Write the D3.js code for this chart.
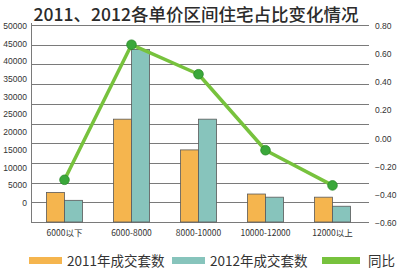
<!DOCTYPE html>
<html>
<head>
<meta charset="utf-8">
<script src="https://cdn.jsdelivr.net/npm/d3@7"></script>
<style>
  body { margin: 0; background: #fff; }
  svg { display: block; font-family: "Noto Sans CJK SC", "Noto Sans", sans-serif; }
  .num { font-family: "Liberation Sans", Arial, sans-serif; }
</style>
</head>
<body>
<div id="chart"></div>
<script>
// price ranges
const categories = ["6000以下", "6000-8000", "8000-10000", "10000-12000", "12000以上"];
const sales2011 = [7500, 26100, 18300, 7100, 6300];
const sales2012 = [5500, 43800, 26100, 6300, 4000];
const yoy = [-0.30, 0.66, 0.45, -0.09, -0.34];
const leftTicks = [0, 5000, 10000, 15000, 20000, 25000, 30000, 35000, 40000, 45000, 50000];
const rightTicks = [-0.6, -0.4, -0.2, 0, 0.2, 0.4, 0.6, 0.8];
const legendItems = ["2011年成交套数", "2012年成交套数", "同比"];

const W = 397, H = 270;
const plotLeft = 31, plotRight = 369, plotTop = 25, plotBottom = 222;
const colors = ["#F5B54E", "#87C4BC", "#77C23D"];

const svg = d3.select("#chart").append("svg")
  .attr("width", W).attr("height", H);

// title
svg.append("text")
  .attr("x", 196).attr("y", 20.5)
  .attr("text-anchor", "middle")
  .attr("font-size", 17.5)
  .attr("font-weight", 500)
  .attr("fill", "#2b2b2b")
  .text("2011、2012各单价区间住宅占比变化情况");

const x = d3.scaleBand().domain(categories).range([plotLeft, 366])
  .paddingInner(0.46).paddingOuter(0.23);
const y = d3.scaleLinear().domain([0, 50000]).range([plotBottom, plotTop]);
// left labels sit a bit off the grid in the original
const yLabel = d3.scaleLinear().domain([0, 50000]).range([203, plotTop + 1]);
const y2 = d3.scaleLinear().domain([-0.6, 0.8]).range([plotBottom, plotTop]);

// grid lines
svg.append("g").selectAll("line")
  .data(leftTicks)
  .join("line")
  .attr("x1", plotLeft).attr("x2", plotRight)
  .attr("y1", d => Math.round(y(d)) + 0.5)
  .attr("y2", d => Math.round(y(d)) + 0.5)
  .attr("stroke", "#7a7a7a").attr("stroke-width", 1);

// left axis line
svg.append("line")
  .attr("x1", plotLeft + 0.5).attr("x2", plotLeft + 0.5)
  .attr("y1", plotTop - 2).attr("y2", plotBottom)
  .attr("stroke", "#7a7a7a");

// left tick labels
svg.append("g").selectAll("text")
  .data(leftTicks)
  .join("text")
  .attr("class", "num")
  .attr("x", 27).attr("y", d => yLabel(d))
  .attr("dy", "0.35em")
  .attr("text-anchor", "end")
  .attr("font-size", 8.5)
  .attr("fill", "#333")
  .text(d => d);

// right tick labels
svg.append("g").selectAll("text")
  .data(rightTicks)
  .join("text")
  .attr("class", "num")
  .attr("x", 375).attr("y", d => y2(d) + 1)
  .attr("dy", "0.35em")
  .attr("font-size", 8.5)
  .attr("fill", "#333")
  .text(d => d3.format(".2f")(d));

// bars
const bw = x.bandwidth() / 2;
const groups = svg.append("g").selectAll("g")
  .data(categories)
  .join("g")
  .attr("transform", d => `translate(${x(d)},0)`);

groups.append("rect")
  .attr("x", 0).attr("width", bw)
  .attr("y", (d, i) => y(sales2011[i]))
  .attr("height", (d, i) => plotBottom - y(sales2011[i]))
  .attr("fill", colors[0]).attr("stroke", "#5a5a5a").attr("stroke-width", 0.8);

groups.append("rect")
  .attr("x", bw).attr("width", bw)
  .attr("y", (d, i) => y(sales2012[i]))
  .attr("height", (d, i) => plotBottom - y(sales2012[i]))
  .attr("fill", colors[1]).attr("stroke", "#5a5a5a").attr("stroke-width", 0.8);

// x labels
svg.append("g").selectAll("text")
  .data(categories)
  .join("text")
  .attr("x", d => x(d) + x.bandwidth() / 2)
  .attr("y", 236)
  .attr("text-anchor", "middle")
  .attr("font-size", 8.5)
  .attr("fill", "#333")
  .text(d => d);

// yoy line
const line = d3.line()
  .x((d, i) => x(categories[i]) + x.bandwidth() / 2)
  .y(d => y2(d));

svg.append("path")
  .datum(yoy)
  .attr("d", line)
  .attr("fill", "none")
  .attr("stroke", colors[2])
  .attr("stroke-width", 3.5)
  .attr("stroke-linejoin", "round");

svg.append("g").selectAll("circle")
  .data(yoy)
  .join("circle")
  .attr("cx", (d, i) => x(categories[i]) + x.bandwidth() / 2)
  .attr("cy", d => y2(d))
  .attr("r", 4.8)
  .attr("fill", "#3aa73a")
  .attr("stroke", "#2a8a2a")
  .attr("stroke-width", 0.8);

// legend
const legendX = [29, 172, 322];
const legend = svg.append("g").selectAll("g")
  .data(legendItems)
  .join("g")
  .attr("transform", (d, i) => `translate(${legendX[i]},256)`);

legend.append("rect")
  .attr("width", (d, i) => i === 2 ? 38 : 33)
  .attr("height", 7)
  .attr("y", 1)
  .attr("fill", (d, i) => colors[i]);

legend.append("text")
  .attr("x", (d, i) => i === 2 ? 46 : 38)
  .attr("y", 5)
  .attr("dy", "0.35em")
  .attr("font-size", 13.5)
  .attr("fill", "#333")
  .text(d => d);
</script>
</body>
</html>
